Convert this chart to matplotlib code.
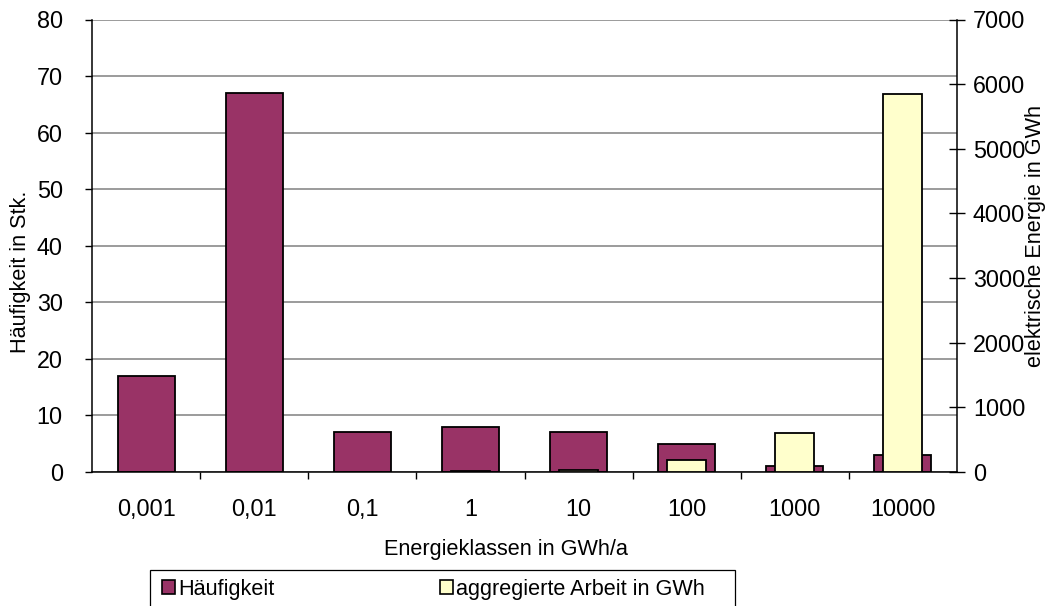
import numpy as np
import matplotlib
matplotlib.use("Agg")
import matplotlib.pyplot as plt
from matplotlib.patches import Rectangle, Patch

# Energy classes (GWh/a) and the two series
klassen = ["0,001", "0,01", "0,1", "1", "10", "100", "1000", "10000"]
haeufigkeit = [17, 67, 7, 8, 7, 5, 1, 3]            # count, left axis
arbeit = [0.02, 0.6, 0.7, 10, 25, 185, 600, 5840]    # aggregated energy in GWh, right axis

plt.rcParams["font.family"] = ["Liberation Sans", "DejaVu Sans"]
FS = 15.6
TFS = 16.8
plt.rcParams["font.size"] = FS

W, H = 1055, 606
fig = plt.figure(figsize=(W / 100, H / 100), dpi=100)

# plot area in pixel coordinates
x0, x1, yb, yt = 92, 957, 472, 19.5
ax = fig.add_axes([x0 / W, 1 - yb / H, (x1 - x0) / W, (yb - yt) / H])

x = np.arange(len(klassen))
ax.bar(x, haeufigkeit, width=0.527, color="#993366", edgecolor="black",
       linewidth=1.3, zorder=2)
ax.set_xlim(-0.5, len(klassen) - 0.5)
ax.set_ylim(0, 80)
ax.set_yticks(np.arange(0, 81, 10))
ax.yaxis.grid(True, color="#808080", linewidth=1.1)
ax.set_axisbelow(True)

# category labels at bar centres, tick marks at category boundaries
ax.set_xticks(x)
ax.set_xticklabels(klassen)
ax.tick_params(axis="x", which="major", length=0, pad=18.5, labelsize=TFS)
ax.set_xticks(np.arange(0.5, len(klassen) - 0.5), minor=True)
ax.tick_params(axis="x", which="minor", length=5, width=1.0, direction="out")
ax.tick_params(axis="y", length=5, width=1.0, direction="out", pad=16, labelsize=TFS)

for s in ("top", "right"):
    ax.spines[s].set_visible(False)
for s in ("left", "bottom"):
    ax.spines[s].set_linewidth(1.1)
    ax.spines[s].set_color("black")

ax2 = ax.twinx()
ax2.bar(x, arbeit, width=0.36, color="#FFFFCC", edgecolor="black",
        linewidth=1.3, zorder=3)
ax2.set_ylim(0, 7000)
ax2.set_yticks(np.arange(0, 7001, 1000))
ax2.tick_params(axis="y", length=12, width=1.0, direction="inout", pad=5.5, labelsize=TFS)
for s in ("top", "left", "bottom"):
    ax2.spines[s].set_visible(False)
ax2.spines["right"].set_linewidth(1.1)

# axis titles
ax.set_ylabel("Häufigkeit in Stk.", va="center", ha="center")
ax.yaxis.set_label_coords((21 - x0) / (x1 - x0), (yb - 272) / (yb - yt))
ax2.set_ylabel("elektrische Energie in GWh", va="center", ha="center")
ax2.yaxis.set_label_coords((1035 - x0) / (x1 - x0), (yb - 236) / (yb - yt))
fig.text(506 / W, 1 - 549 / H, "Energieklassen in GWh/a", ha="center", va="center")

# legend box with two entries
fig.patches.append(Rectangle((150 / W, 1 - 612 / H), 585 / W, 42 / H,
                             transform=fig.transFigure, facecolor="white",
                             edgecolor="black", linewidth=0.9))
leg_kw = dict(frameon=False, loc="center left", borderpad=0, borderaxespad=0,
              handlelength=0.6, handleheight=0.6, handletextpad=0.15, fontsize=FS)
fig.legend(handles=[Patch(facecolor="#993366", edgecolor="black", linewidth=1.2)],
           labels=["Häufigkeit"], bbox_to_anchor=(162 / W, 1 - 589 / H), **leg_kw)
fig.legend(handles=[Patch(facecolor="#FFFFCC", edgecolor="black", linewidth=1.2)],
           labels=["aggregierte Arbeit in GWh"], bbox_to_anchor=(440 / W, 1 - 589 / H), **leg_kw)

fig.savefig("out.png", dpi=100)
